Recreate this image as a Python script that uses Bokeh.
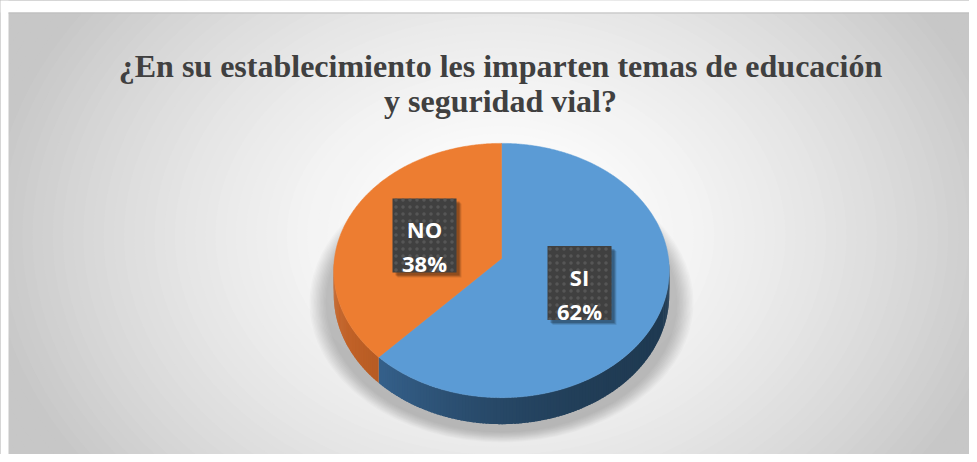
import numpy as np
from bokeh.plotting import figure
from bokeh.models import Range1d
from bokeh.core.properties import value
from bokeh.embed import file_html
from bokeh.resources import INLINE

# ---------------- data ----------------
categories = ["SI", "NO"]
percents = [62, 38]
pct_labels = ["62%", "38%"]
title_lines = ["¿En su establecimiento les imparten temas de educación",
               "y seguridad vial?"]

# ---------------- style ----------------
top_colors = {"SI": "#5B9BD5", "NO": "#ED7D31"}
side_dark = {"SI": (0x1F, 0x3A, 0x52), "NO": (0x8C, 0x42, 0x14)}
side_light = {"SI": (0x3E, 0x70, 0xA2), "NO": (0xC8, 0x66, 0x2A)}
label_centre = {"SI": (579, 282.5), "NO": (424, 235)}
BOX_W, BOX_H = 64, 74

# pie projection parameters (screen px)
CX, CY, R, A, B, DEPTH = 501, 258, 167, 126, 0.0945, 24

W, H = 969, 454
p = figure(width=W, height=H, x_range=Range1d(0, W), y_range=Range1d(H, 0),
           output_backend="svg", toolbar_location=None, min_border=0,
           x_axis_location=None, y_axis_location=None)
p.grid.visible = False
p.outline_line_color = None
p.background_fill_color = "white"
p.border_fill_color = "white"

# radial grey background (chart area starts at x=8, y=12)
ts = np.linspace(1.35, 0.0, 70)
bg_cols = []
for t in ts:
    g = int(round(255 - 56 * min(t, 1.0) ** 1.6))
    bg_cols.append("#%02x%02x%02x" % (g, g, g))
p.ellipse(x=[500] * len(ts), y=[235] * len(ts), width=list(2 * 520 * ts),
          height=list(2 * 400 * ts), fill_color=bg_cols, line_color=None)

# white margins and top border
p.quad(left=[0, 0], right=[W, 8], top=[0, 0], bottom=[12, H],
       fill_color="white", line_color=None)
p.segment(x0=[8], y0=[12.5], x1=[W], y1=[12.5], line_color="#bdbdbd", line_width=1)

# soft shadow under the pie
nsh = 12
fs = np.linspace(0, 1, nsh)
p.ellipse(x=[501] * nsh, y=[302] * nsh, width=list(2 * (192 - 16 * fs)),
          height=list(2 * (140 - 10 * fs)), fill_color="black", fill_alpha=0.02,
          line_color=None)


def proj(theta_deg, drop=0.0):
    th = np.radians(theta_deg)
    u = -np.cos(th)
    v = np.sin(th)
    s = 1.0 / (1.0 - B * u)
    return CX + R * v * s, CY + A * u * s + drop * s


# slice angle spans (clockwise from top)
total = float(sum(percents))
spans = []
acc = 0.0
for c, val in zip(categories, percents):
    a0 = acc / total * 360.0
    acc += val
    a1 = acc / total * 360.0
    spans.append((c, a0, a1))

# side walls (front half only)
xs_side, ys_side, cols_side = [], [], []
for c, a0, a1 in spans:
    lo, hi = max(a0, 90.0), min(a1, 270.0)
    if hi <= lo:
        continue
    edges = np.linspace(lo, hi, int(np.ceil(hi - lo)) + 1)
    for e0, e1 in zip(edges[:-1], edges[1:]):
        e1x = min(e1 + 0.6, hi)
        angs = np.linspace(e0, e1x, 3)
        tx, ty = proj(angs)
        bx, by = proj(angs[::-1], DEPTH)
        xs_side.append(list(tx) + list(bx))
        ys_side.append(list(ty) + list(by))
        mid = 0.5 * (e0 + e1)
        t = (1 - np.sin(np.radians(mid))) / 2.0
        w = t ** 2
        d, l = side_dark[c], side_light[c]
        rgb = tuple(int(round(d[k] + (l[k] - d[k]) * w)) for k in range(3))
        cols_side.append("#%02x%02x%02x" % rgb)
p.patches(xs=xs_side, ys=ys_side, fill_color=cols_side, line_color=None)

# top faces
xs_top, ys_top, cols_top = [], [], []
for c, a0, a1 in spans:
    angs = np.linspace(a0, a1, max(int(a1 - a0) * 2, 4))
    ax, ay = proj(angs)
    xs_top.append([CX] + list(ax))
    ys_top.append([CY] + list(ay))
    cols_top.append(top_colors[c])
p.patches(xs=xs_top, ys=ys_top, fill_color=cols_top, line_color=cols_top, line_width=0.5)

# data labels
lx = [label_centre[c][0] for c in categories]
ly = [label_centre[c][1] for c in categories]
for off, alpha in ((5, 0.10), (4, 0.15), (3, 0.2)):
    p.quad(left=[x - BOX_W / 2 + off for x in lx], right=[x + BOX_W / 2 + off for x in lx],
           top=[y - BOX_H / 2 + off for y in ly], bottom=[y + BOX_H / 2 + off for y in ly],
           fill_color="black", fill_alpha=alpha, line_color=None)
p.quad(left=[x - BOX_W / 2 for x in lx], right=[x + BOX_W / 2 for x in lx],
       top=[y - BOX_H / 2 for y in ly], bottom=[y + BOX_H / 2 for y in ly],
       fill_color="#404040", line_color=None, hatch_pattern="dot",
       hatch_color="#565656", hatch_scale=7, hatch_weight=1.5)
p.text(x=lx, y=[y - 6.5 for y in ly], text=categories, text_font=value("Open Sans"),
       text_font_style="bold", text_font_size="22px", text_color="white",
       text_align="center", text_baseline="alphabetic")
p.text(x=lx, y=[y + 27.5 for y in ly], text=pct_labels, text_font=value("Open Sans"),
       text_font_style="bold", text_font_size="22px", text_color="white",
       text_align="center", text_baseline="alphabetic")

# title
p.text(x=[500, 500], y=[65, 100], text=title_lines, text_font=value("Liberation Serif"),
       text_font_style="bold", text_font_size="32px", text_color="#404040",
       text_align="center", text_baseline="alphabetic")

open("out.html", "w").write(file_html(p, INLINE))
